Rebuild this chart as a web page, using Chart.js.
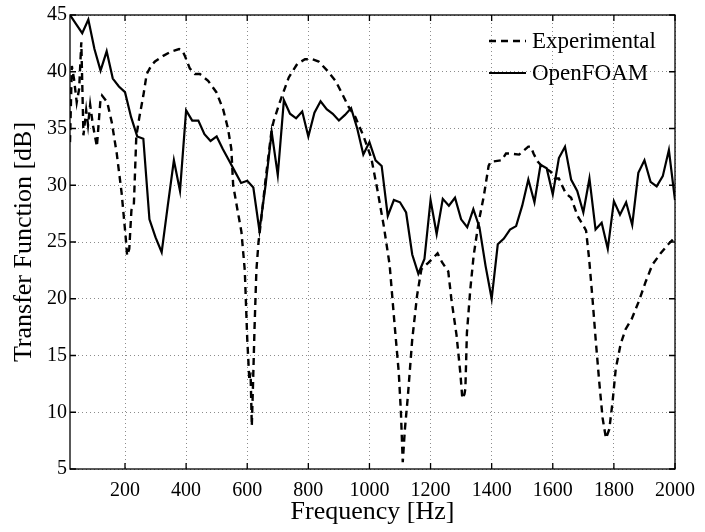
<!DOCTYPE html>
<html>
<head>
<meta charset="utf-8">
<title>Transfer function</title>
<script src="https://cdn.jsdelivr.net/npm/chart.js@4.4.1/dist/chart.umd.min.js"></script>
<style>
  html, body { margin: 0; padding: 0; background: #fff; }
  #tfChart { display: block; }
</style>
</head>
<body>
<canvas id="tfChart" width="705" height="532"></canvas>
<script>
// Experimental measurement (dashed)
const expFreq = [
  20, 26, 33, 42, 50, 57, 64, 73, 79, 86, 95, 108, 119, 125, 142, 157, 173, 189,
  202, 207, 214, 221, 229, 237, 247, 260, 271, 287, 298, 325, 353, 377, 387, 396,
  412, 429, 445, 472, 499, 521, 537, 548, 554, 567, 581, 592, 600, 607, 611, 615,
  619, 624, 630, 637, 645, 660, 680, 687, 709, 736, 764, 789, 813, 834, 862, 889,
  910, 932, 954, 981, 1006, 1026, 1047, 1066, 1083, 1096, 1103, 1109, 1116, 1126,
  1140, 1156, 1170, 1194, 1223, 1238, 1258, 1268, 1285, 1298, 1304, 1311, 1314,
  1319, 1330, 1341, 1357, 1374, 1390, 1397, 1406, 1433, 1447, 1461, 1490, 1520,
  1528, 1537, 1550, 1564, 1593, 1607, 1620, 1642, 1660, 1681, 1701, 1709, 1719,
  1730, 1741, 1752, 1763, 1774, 1785, 1796, 1806, 1822, 1838, 1858, 1882, 1904,
  1926, 1953, 1978, 2000
];
const expVals = [
  33.8, 40.5, 39.4, 37.3, 38.5, 42.6, 34.4, 36.6, 35.3, 37.1, 35.3, 33.4, 37.3, 37.9, 37.3, 35.5, 32.8, 29.3,
  25.5, 23.8, 24.4, 27.8, 28.3, 34.3, 36.0, 37.9, 39.8, 40.6, 40.9, 41.4, 41.8, 42.0, 41.9, 41.4,
  40.3, 39.8, 39.8, 39.2, 38.2, 36.7, 35.0, 33.2, 30.0, 28.0, 25.9, 22.5, 16.5, 12.8, 13.5, 8.8,
  12.5, 17.5, 22.5, 25.0, 26.8, 30.5, 34.9, 35.7, 37.5, 39.5, 40.7, 41.1, 41.1, 40.9, 40.1, 39.2,
  38.1, 36.9, 36.0, 34.3, 32.4, 29.6, 26.4, 23.0, 17.5, 13.5, 10.0, 5.6, 8.5, 11.5,
  16.4, 20.3, 22.6, 23.2, 24.0, 23.2, 22.4, 20.0, 16.8, 13.3, 11.2, 11.6, 12.1,
  17.0, 20.8, 23.8, 26.7, 29.0, 31.7, 32.1, 32.1, 32.2, 32.8, 32.8, 32.7, 33.4,
  33.4, 32.8, 32.1, 31.7, 31.2, 30.6, 30.6, 29.3, 28.9, 27.3, 26.4, 26.0, 23.5,
  20.0, 16.2, 12.7, 9.5, 7.7, 8.5, 11.0, 13.8, 16.0, 17.3, 18.2, 19.8, 21.5,
  23.0, 24.0, 24.8, 25.4
];

// OpenFOAM simulation (solid), 20 Hz steps
const cfdFreq = [
  20, 40, 60, 80, 100, 120, 140, 160, 180, 200, 220, 240, 260, 280, 300, 320, 340, 360, 380, 400,
  420, 440, 460, 480, 500, 520, 540, 560, 580, 600, 620, 640, 660, 680, 700, 720, 740, 760, 780, 800,
  820, 840, 860, 880, 900, 920, 940, 960, 980, 1000, 1020, 1040, 1060, 1080, 1100, 1120, 1140, 1160, 1180, 1200,
  1220, 1240, 1260, 1280, 1300, 1320, 1340, 1360, 1380, 1400, 1420, 1440, 1460, 1480, 1500, 1520, 1540, 1560, 1580, 1600,
  1620, 1640, 1660, 1680, 1700, 1720, 1740, 1760, 1780, 1800, 1820, 1840, 1860, 1880, 1900, 1920, 1940, 1960, 1980, 2000
];
const cfdVals = [
  45.0, 44.2, 43.4, 44.6, 42.0, 40.1, 41.8, 39.4, 38.7, 38.2, 36.0, 34.3, 34.1, 27.0, 25.4, 24.1, 28.2, 32.2, 29.5, 36.6,
  35.7, 35.7, 34.5, 33.9, 34.3, 33.2, 32.2, 31.2, 30.2, 30.4, 29.8, 26.0, 30.0, 34.7, 30.9, 37.5, 36.3, 35.9, 36.5, 34.3,
  36.4, 37.4, 36.7, 36.3, 35.7, 36.2, 36.8, 35.0, 32.7, 33.8, 32.2, 31.7, 27.3, 28.7, 28.5, 27.6, 23.9, 22.2, 23.5, 28.7,
  25.7, 28.8, 28.2, 28.9, 27.0, 26.3, 27.9, 26.3, 22.9, 20.0, 24.8, 25.3, 26.1, 26.4, 28.2, 30.5, 28.5, 31.8, 31.5, 29.2,
  32.4, 33.4, 30.5, 29.5, 27.6, 30.6, 26.1, 26.7, 24.4, 28.6, 27.4, 28.5, 26.5, 31.1, 32.2, 30.3, 29.9, 30.8, 33.1, 28.7
];

const xTicks = [200, 400, 600, 800, 1000, 1200, 1400, 1600, 1800, 2000];
const yTicks = [5, 10, 15, 20, 25, 30, 35, 40, 45];

const serif = "'Liberation Serif', 'Times New Roman', serif";
Chart.defaults.font.family = serif;
Chart.defaults.color = '#000';

// box frame with inward ticks, like the matlab figure
const boxPlugin = {
  id: 'boxFrame',
  afterDatasetsDraw(chart) {
    const { ctx, chartArea: { left, right, top, bottom }, scales: { x, y } } = chart;
    ctx.save();
    ctx.strokeStyle = '#000';
    ctx.lineWidth = 1.3;
    ctx.setLineDash([]);
    ctx.strokeRect(left, top, right - left, bottom - top);
    ctx.beginPath();
    x.ticks.forEach(t => {
      const px = x.getPixelForValue(t.value);
      ctx.moveTo(px, bottom); ctx.lineTo(px, bottom - 6);
      ctx.moveTo(px, top); ctx.lineTo(px, top + 6);
    });
    y.ticks.forEach(t => {
      const py = y.getPixelForValue(t.value);
      ctx.moveTo(left, py); ctx.lineTo(left + 6, py);
      ctx.moveTo(right, py); ctx.lineTo(right - 6, py);
    });
    ctx.stroke();
    ctx.restore();
  }
};

// legend sitting inside the plot, top right
const legendPlugin = {
  id: 'insideLegend',
  afterDraw(chart) {
    const { ctx, chartArea } = chart;
    ctx.save();
    ctx.font = '23px ' + serif;
    ctx.textBaseline = 'middle';
    ctx.fillStyle = '#000';
    chart.data.datasets.forEach((ds, i) => {
      const y = chartArea.top + 26 + i * 32;
      const x0 = chartArea.right - 186;
      ctx.beginPath();
      ctx.setLineDash(ds.borderDash || []);
      ctx.lineWidth = ds.borderWidth;
      ctx.strokeStyle = ds.borderColor;
      ctx.moveTo(x0, y);
      ctx.lineTo(x0 + 37, y);
      ctx.stroke();
      ctx.setLineDash([]);
      ctx.fillText(ds.label, x0 + 43, y + 1);
    });
    ctx.restore();
  }
};

const toPoints = (xs, ys) => xs.map((f, i) => ({ x: f, y: ys[i] }));

new Chart(document.getElementById('tfChart'), {
  type: 'line',
  data: {
    datasets: [
      {
        label: 'Experimental',
        data: toPoints(expFreq, expVals),
        borderColor: '#000',
        borderWidth: 2.4,
        borderDash: [7, 5],
        pointRadius: 0,
        tension: 0,
        fill: false
      },
      {
        label: 'OpenFOAM',
        data: toPoints(cfdFreq, cfdVals),
        borderColor: '#000',
        borderWidth: 2.2,
        pointRadius: 0,
        tension: 0,
        fill: false
      }
    ]
  },
  options: {
    responsive: false,
    animation: false,
    devicePixelRatio: 1,
    layout: { padding: { top: 12, right: 29, left: 0, bottom: 0 } },
    plugins: {
      legend: { display: false },
      tooltip: { enabled: false }
    },
    scales: {
      x: {
        type: 'linear',
        min: 20,
        max: 2000,
        afterBuildTicks: scale => { scale.ticks = xTicks.map(v => ({ value: v })); },
        afterFit: scale => { scale.height = 63; },
        grid: { color: 'rgba(0,0,0,0.45)', lineWidth: 1, drawTicks: false },
        border: { display: false, dash: [1, 3] },
        ticks: { font: { size: 20 }, padding: 10, maxRotation: 0, callback: v => String(v) },
        title: {
          display: true,
          text: 'Frequency [Hz]',
          font: { size: 26 },
          padding: { top: 0, bottom: 4 }
        }
      },
      y: {
        min: 5,
        max: 45,
        afterBuildTicks: scale => { scale.ticks = yTicks.map(v => ({ value: v })); },
        afterFit: scale => { scale.width = 70; },
        grid: { color: 'rgba(0,0,0,0.45)', lineWidth: 1, drawTicks: false },
        border: { display: false, dash: [1, 3] },
        ticks: { font: { size: 20 }, padding: 3, callback: v => String(v) },
        title: {
          display: true,
          text: 'Transfer Function [dB]',
          font: { size: 26 },
          padding: { top: 9, bottom: 0 }
        }
      }
    }
  },
  plugins: [boxPlugin, legendPlugin]
});
</script>
</body>
</html>
